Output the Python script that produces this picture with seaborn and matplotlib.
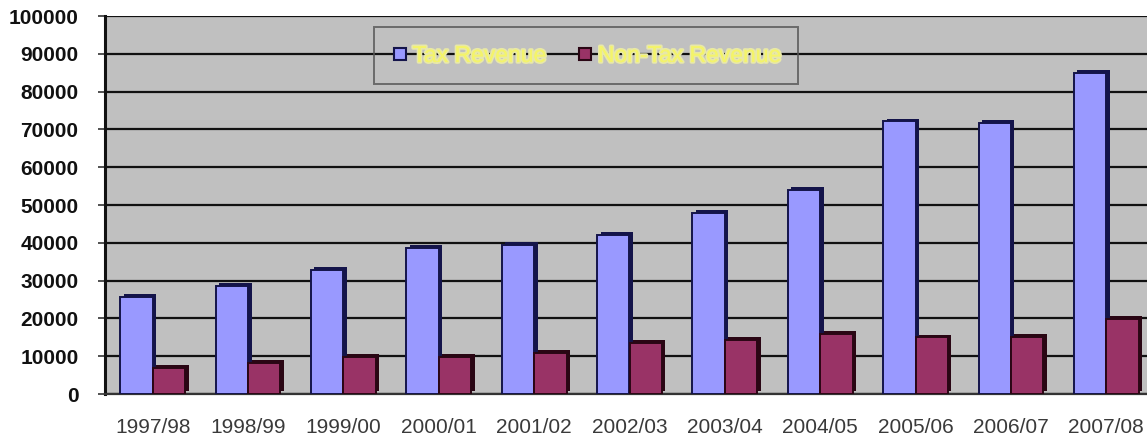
import matplotlib
matplotlib.use("Agg")
import matplotlib.pyplot as plt
import matplotlib.patheffects as pe
from matplotlib.lines import Line2D
import seaborn as sns
import pandas as pd

years = ["1997/98", "1998/99", "1999/00", "2000/01", "2001/02", "2002/03",
         "2003/04", "2004/05", "2005/06", "2006/07", "2007/08"]
tax_revenue = [25700, 28600, 32800, 38600, 39500, 42100,
               47900, 53900, 72100, 71700, 85000]
non_tax_revenue = [6900, 8300, 9900, 9900, 10900, 13600,
                   14300, 15900, 15000, 15200, 19800]
series_names = ["Tax Revenue", "Non-Tax Revenue"]
y_ticks = list(range(0, 100001, 10000))

df = pd.DataFrame({
    "year": years * 2,
    "value": tax_revenue + non_tax_revenue,
    "series": [series_names[0]] * len(years) + [series_names[1]] * len(years),
})

sns.set_theme(style="white")
plt.rcParams["font.family"] = ["Liberation Sans", "DejaVu Sans"]

fill_colors = {"Tax Revenue": "#9999ff", "Non-Tax Revenue": "#993366"}
edge_colors = {"Tax Revenue": "#14144a", "Non-Tax Revenue": "#2a0614"}

fig = plt.figure(figsize=(11.47, 4.40), dpi=100)
ax = fig.add_axes([105 / 1147, 46 / 440, 1049 / 1147, 378 / 440])
ax.set_facecolor("#c0c0c0")

sns.barplot(data=df, x="year", y="value", hue="series", order=years,
            hue_order=series_names, palette=fill_colors, saturation=1,
            width=0.68, dodge=True, legend=False, ax=ax, zorder=3)

# darker outline and a small depth shadow on each bar
for container, name in zip(ax.containers, series_names):
    for bar in container:
        bar.set_edgecolor(edge_colors[name])
        bar.set_linewidth(1.4)
        bar.set_path_effects([
            pe.SimplePatchShadow(offset=(2.5, 2.0), shadow_rgbFace=edge_colors[name], alpha=1.0),
            pe.Normal(),
        ])

ax.set_ylim(0, 100000)
ax.set_xlim(-0.5, len(years) - 0.5)
ax.set_yticks(y_ticks)
ax.set_yticklabels([str(t) for t in y_ticks])
ax.yaxis.grid(True, color="#111111", linewidth=1.6, zorder=1)
ax.set_axisbelow(True)
ax.set_xlabel("")
ax.set_ylabel("")

ax.tick_params(axis="y", length=5, width=1.2, color="#333333", pad=14,
               labelsize=15, labelcolor="#111111", left=True)
for lbl in ax.get_yticklabels():
    lbl.set_fontweight("bold")
ax.tick_params(axis="x", length=0, pad=17, labelsize=15, labelcolor="#3a3a3a")

for side in ("top", "right"):
    ax.spines[side].set_visible(False)
ax.spines["left"].set_color("#111111")
ax.spines["left"].set_linewidth(2.2)
ax.spines["bottom"].set_color("#333333")
ax.spines["bottom"].set_linewidth(1.6)

handles = [
    Line2D([], [], linestyle="none", marker="s", markersize=8,
           markerfacecolor=fill_colors[n], markeredgecolor=edge_colors[n],
           markeredgewidth=1.5)
    for n in series_names
]
leg = ax.legend(handles, series_names, loc="center", bbox_to_anchor=(0.4585, 0.8955),
                ncol=2, frameon=True, fontsize=16.5, borderpad=0.75,
                borderaxespad=0, handlelength=0.8, handletextpad=0.15,
                columnspacing=1.3, fancybox=False)
leg.get_frame().set_facecolor("none")
leg.get_frame().set_edgecolor("#555555")
leg.get_frame().set_linewidth(1.4)
for txt in leg.get_texts():
    txt.set_color("#f4f46a")
    txt.set_path_effects([pe.withStroke(linewidth=2.5, foreground="#e8e8a8"), pe.Normal()])

fig.savefig("out.png", dpi=100, facecolor="white")
